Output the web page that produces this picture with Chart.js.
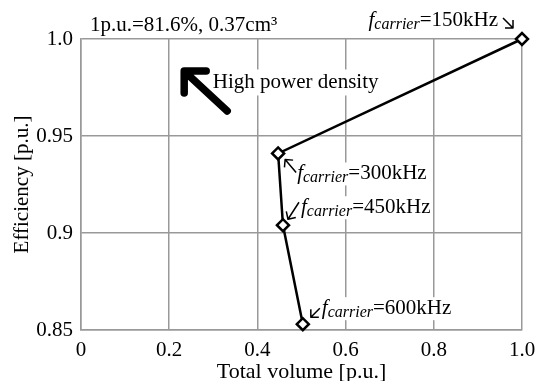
<!DOCTYPE html>
<html><head><meta charset="utf-8">
<script src="https://cdn.jsdelivr.net/npm/chart.js@4/dist/chart.umd.min.js"></script>
<style>html,body{margin:0;padding:0;background:#fff}</style>
</head><body>
<canvas id="c" width="535" height="381" style="width:535px;height:381px;display:block"></canvas>
<script>
// ---- data ----
const volume = [1.0, 0.447, 0.458, 0.503];
const efficiency = [1.0, 0.941, 0.904, 0.853];
const carrierFreqs = ['150', '300', '450', '600'];
const xTicks = [0, 0.2, 0.4, 0.6, 0.8, 1.0];
const xTickLabels = ['0', '0.2', '0.4', '0.6', '0.8', '1.0'];
const yTicks = [0.85, 0.9, 0.95, 1.0];
const yTickLabels = ['0.85', '0.9', '0.95', '1.0'];
const noteText = '1p.u.=81.6%, 0.37cm\u00B3';
const arrowText = 'High power density';
const xTitle = 'Total volume [p.u.]';
const yTitle = 'Efficiency [p.u.]';

const FAM = "'Liberation Serif', 'Times New Roman', serif";
const GRID = '#999999';
const FS = 21;

// annotation layout (pixel offsets relative to each data point)
const labelLayout = [
  {align: 'right', tx: -24, ty: -13, head: [-9, -11], tail: [-19, -21]},
  {align: 'left', tx: 19, ty: 26, head: [7, 6], tail: [18, 19]},
  {align: 'left', tx: 18, ty: -12, head: [5, -6], tail: [16, -23]},
  {align: 'left', tx: 19, ty: -10, head: [8, -7], tail: [17, -16]}
];

function smallArrow(ctx, x1, y1, x2, y2) {
  ctx.save();
  ctx.lineWidth = 1.5;
  ctx.lineCap = 'butt';
  ctx.beginPath();
  ctx.moveTo(x1, y1); ctx.lineTo(x2, y2);
  const a = Math.atan2(y1 - y2, x1 - x2);
  const L = 8;
  ctx.moveTo(x2 + L * Math.cos(a + Math.PI / 4), y2 + L * Math.sin(a + Math.PI / 4));
  ctx.lineTo(x2, y2);
  ctx.lineTo(x2 + L * Math.cos(a - Math.PI / 4), y2 + L * Math.sin(a - Math.PI / 4));
  ctx.stroke();
  ctx.restore();
}

function carrierWidth(ctx, freq) {
  ctx.font = 'italic ' + FS + 'px ' + FAM; let w = ctx.measureText('f').width;
  ctx.font = 'italic 16px ' + FAM; w += ctx.measureText('carrier').width;
  ctx.font = FS + 'px ' + FAM; w += ctx.measureText('=' + freq + 'kHz').width;
  return w;
}
function drawCarrier(ctx, x, y, freq) {
  ctx.font = 'italic ' + FS + 'px ' + FAM; ctx.fillText('f', x, y); x += ctx.measureText('f').width;
  ctx.font = 'italic 16px ' + FAM; ctx.fillText('carrier', x, y + 3); x += ctx.measureText('carrier').width;
  ctx.font = FS + 'px ' + FAM; ctx.fillText('=' + freq + 'kHz', x, y);
}

const annot = {
  id: 'annot',
  beforeDatasetsDraw(chart) {
    const {ctx, chartArea, scales: {x, y}} = chart;
    ctx.save();
    ctx.textBaseline = 'alphabetic';
    ctx.textAlign = 'left';
    ctx.fillStyle = '#000'; ctx.strokeStyle = '#000';
    // note
    ctx.font = FS + 'px ' + FAM;
    ctx.fillText(noteText, chartArea.left + 9, chartArea.top - 8);
    // big arrow + text
    const tipX = x.getPixelForValue(0.234), tipY = y.getPixelForValue(0.9835);
    const tX = x.getPixelForValue(0.299), tY = y.getPixelForValue(0.9745);
    ctx.font = FS + 'px ' + FAM;
    const tw = ctx.measureText(arrowText).width;
    ctx.fillStyle = '#fff';
    ctx.fillRect(tipX - 14, tipY - 6, 60, 48);
    ctx.fillRect(tX - 2, tY - 19, tw + 4, 26);
    ctx.fillStyle = '#000';
    ctx.fillText(arrowText, tX, tY);
    ctx.lineWidth = 7.5; ctx.lineCap = 'round'; ctx.lineJoin = 'round';
    ctx.beginPath();
    ctx.moveTo(tipX, tipY + 22); ctx.lineTo(tipX, tipY); ctx.lineTo(tipX + 22, tipY);
    ctx.moveTo(tipX + 2, tipY + 2); ctx.lineTo(tipX + 43, tipY + 40);
    ctx.stroke();
    // carrier labels
    volume.forEach((v, i) => {
      const px = x.getPixelForValue(v), py = y.getPixelForValue(efficiency[i]);
      const L = labelLayout[i];
      const w = carrierWidth(ctx, carrierFreqs[i]);
      const sx = L.align === 'right' ? px + L.tx - w : px + L.tx;
      const sy = py + L.ty;
      ctx.fillStyle = '#fff';
      ctx.fillRect(sx - 2, sy - 17, w + 4, 23);
      ctx.fillStyle = '#000';
      drawCarrier(ctx, sx, sy, carrierFreqs[i]);
      smallArrow(ctx, px + L.tail[0], py + L.tail[1], px + L.head[0], py + L.head[1]);
    });
    ctx.restore();
  }
};

Chart.defaults.font.family = FAM;
Chart.defaults.font.size = FS;
Chart.defaults.color = '#000';

new Chart(document.getElementById('c'), {
  type: 'scatter',
  data: {
    datasets: [{
      data: volume.map((v, i) => ({x: v, y: efficiency[i]})),
      showLine: true,
      borderColor: '#000',
      borderWidth: 2.5,
      pointStyle: 'rectRot',
      pointRadius: 6,
      pointBackgroundColor: '#fff',
      pointBorderColor: '#000',
      pointBorderWidth: 2.5,
      clip: false
    }]
  },
  options: {
    responsive: false,
    animation: false,
    devicePixelRatio: 1,
    layout: {padding: {top: 39, right: 13, left: 0, bottom: 0}},
    plugins: {legend: {display: false}, tooltip: {enabled: false}},
    scales: {
      x: {
        type: 'linear', min: 0, max: 1,
        afterBuildTicks: s => { s.ticks = xTicks.map(v => ({value: v})); },
        afterFit: s => { s.height = 51; s.paddingRight = 13; s.paddingLeft = 0; },
        ticks: {padding: 8, maxRotation: 0, callback: (v, i) => xTickLabels[i]},
        grid: {color: GRID, lineWidth: 1.5, drawTicks: false},
        border: {color: GRID, width: 1.5},
        title: {display: true, text: xTitle, font: {size: 22}, padding: {top: 0, bottom: -4}}
      },
      y: {
        type: 'linear', min: 0.85, max: 1.0,
        afterBuildTicks: s => { s.ticks = yTicks.map(v => ({value: v})); },
        afterFit: s => { s.width = 81; s.paddingTop = 0; s.paddingBottom = 0; },
        ticks: {padding: 8, callback: (v, i) => yTickLabels[i]},
        grid: {color: GRID, lineWidth: 1.5, drawTicks: false},
        border: {color: GRID, width: 1.5},
        title: {display: true, text: yTitle, padding: {top: 10, bottom: 0}}
      }
    }
  },
  plugins: [annot]
});
</script>
</body></html>
